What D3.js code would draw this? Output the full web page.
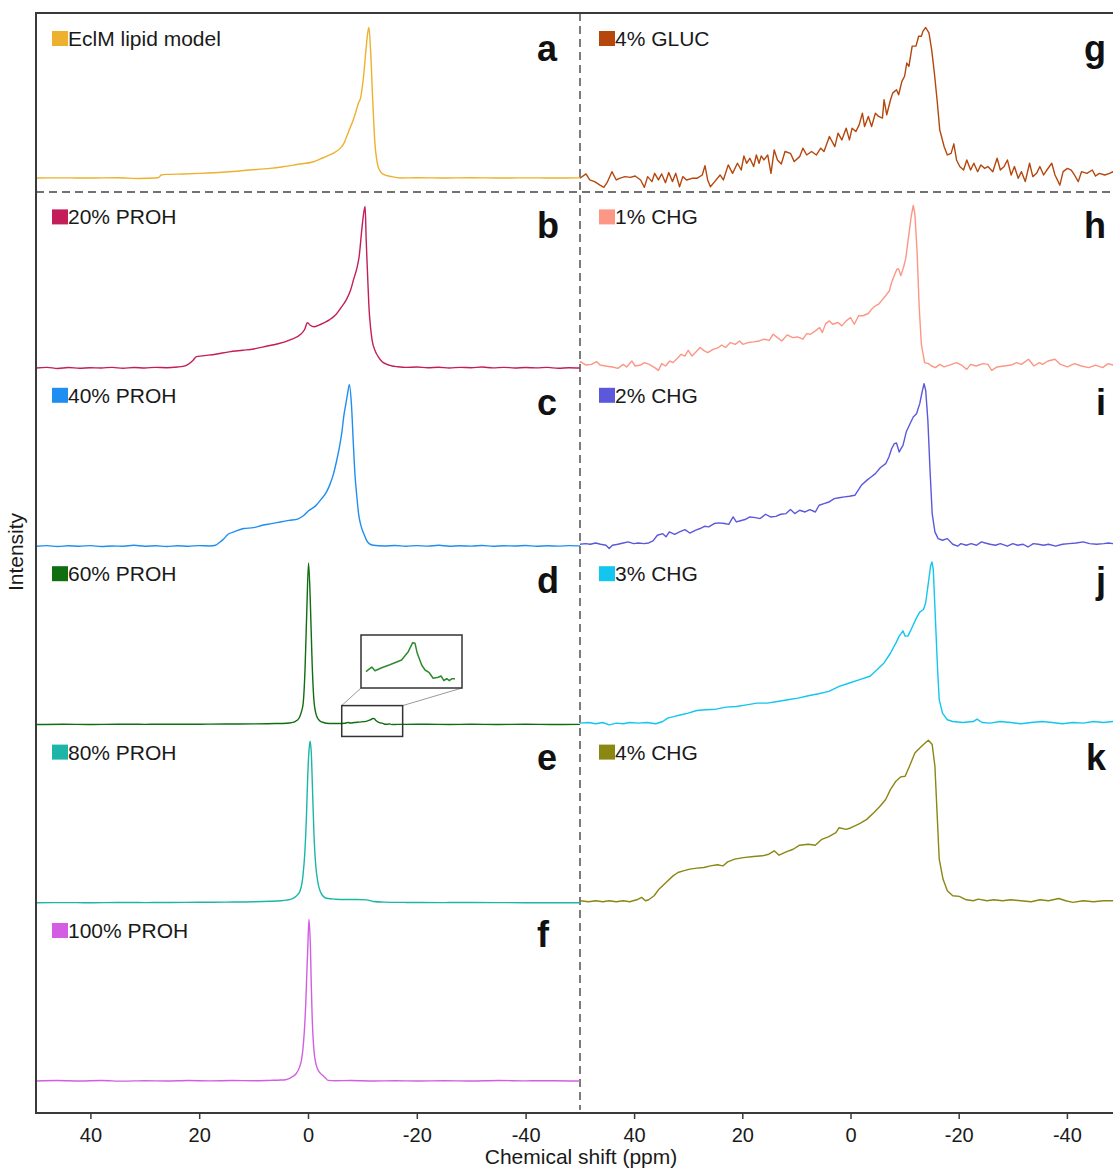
<!DOCTYPE html>
<html>
<head>
<meta charset="utf-8">
<script src="https://cdn.jsdelivr.net/npm/d3@7"></script>
<style>
  html, body { margin: 0; padding: 0; background: #fff; }
  svg { display: block; font-family: "Liberation Sans", Arial, Helvetica, sans-serif; }
</style>
</head>
<body>
<svg id="chart" width="1113" height="1168"></svg>
<script>
// ---- Spectra: [chemical shift (ppm), normalised intensity] ----
const specA = [[50,0],[45,0.001],[40,0],[35,0.002],[31,-0.003],[28,0],[27.4,0.004],[27,0.02],[26,0.024],[23,0.027],[19.9,0.031],[15,0.04],[10.7,0.053],[7,0.064],[4.6,0.075],[2,0.09],[-1,0.108],[-2.2,0.126],[-3.5,0.145],[-4.6,0.164],[-5.9,0.197],[-6.6,0.23],[-7.1,0.274],[-7.7,0.33],[-8.3,0.384],[-8.8,0.44],[-9.25,0.495],[-9.7,0.538],[-10.2,0.671],[-10.7,0.87],[-11.0,0.97],[-11.2,1.0],[-11.5,0.85],[-11.9,0.517],[-12.3,0.23],[-12.6,0.13],[-12.9,0.075],[-13.8,0.026],[-15.4,0.009],[-16.9,0],[-20,0.002],[-25,0],[-30,0.002],[-35,0],[-40,0.001],[-45,0],[-50,0.001]];

const specB = [[50,0],[48,0.004],[46,-0.003],[44,0.003],[42,-0.002],[40,0.002],[38,0],[36,0.004],[34,-0.002],[32,0.003],[30,0],[28,0.004],[26,0.002],[24,0.006],[23,0.01],[22.2,0.02],[21.2,0.045],[20.5,0.07],[19.5,0.075],[17,0.085],[14.5,0.1],[12,0.11],[10,0.118],[7.5,0.136],[5.5,0.15],[3.3,0.174],[1.3,0.21],[0.6,0.24],[0.1,0.28],[-0.4,0.265],[-1.1,0.255],[-2,0.265],[-2.9,0.28],[-4,0.3],[-5.1,0.33],[-6,0.37],[-7.0,0.42],[-7.8,0.48],[-8.4,0.55],[-9.0,0.62],[-9.4,0.69],[-9.9,0.86],[-10.2,0.95],[-10.5,1.0],[-10.7,0.79],[-10.95,0.58],[-11.2,0.38],[-11.5,0.25],[-11.8,0.17],[-12.3,0.11],[-12.9,0.07],[-13.6,0.04],[-14.3,0.025],[-15.3,0.014],[-16.5,0.008],[-18,0.004],[-20,0.006],[-22,0.002],[-24,0.005],[-26,0],[-28,0.004],[-30,0.002],[-32,0.006],[-34,0.001],[-36,0.004],[-38,0],[-40,0.003],[-42,0.001],[-44,0.004],[-46,-0.002],[-48,0.002],[-50,0]];

const specC = [[50,0],[48,0.004],[46,-0.002],[44,0.003],[42,0],[40,0.004],[38,-0.002],[36,0.002],[34,0],[32,0.006],[30,0],[28,0.003],[26,-0.002],[24,0.003],[22,0],[20,0.004],[18,0.002],[17,0.006],[16.4,0.02],[15.5,0.045],[14.7,0.074],[13.5,0.09],[11.8,0.11],[10,0.115],[8.4,0.13],[6.7,0.14],[5.1,0.15],[3.5,0.16],[1.8,0.17],[0.8,0.19],[-0.1,0.22],[-1.4,0.25],[-2.4,0.29],[-3.3,0.33],[-4.0,0.38],[-4.7,0.45],[-5.2,0.52],[-5.7,0.6],[-6.2,0.7],[-6.6,0.81],[-7.0,0.89],[-7.3,0.95],[-7.6,1.0],[-8.0,0.87],[-8.3,0.66],[-8.6,0.46],[-9.0,0.3],[-9.3,0.2],[-9.8,0.12],[-10.3,0.074],[-10.8,0.035],[-11.3,0.015],[-12,0.006],[-14,0.002],[-16,0.005],[-18,0],[-20,0.004],[-22,0.001],[-24,0.006],[-26,0],[-28,0.003],[-30,0.001],[-32,0.005],[-34,0],[-36,0.003],[-38,0.002],[-40,0.005],[-42,0],[-44,0.003],[-46,0.001],[-48,0.004],[-50,0.002]];

const specD = [[50,0],[45,0.002],[40,0],[35,0.002],[30,0.001],[25,0.002],[20,0.002],[15,0.003],[10,0.004],[6,0.006],[4,0.008],[3,0.012],[2.3,0.02],[1.85,0.03],[1.5,0.05],[1.2,0.08],[0.88,0.133],[0.55,0.337],[0.22,0.706],[-0.1,1.0],[-0.44,0.746],[-0.76,0.378],[-1.08,0.153],[-1.4,0.075],[-1.75,0.04],[-2.2,0.022],[-2.7,0.014],[-4,0.006],[-5.5,0.006],[-6.75,0.008],[-7.1,0.0105],[-7.4,0.0127],[-7.75,0.009],[-8.5,0.012],[-9.4,0.015],[-10.7,0.0197],[-11.44,0.028],[-11.93,0.037],[-12.19,0.0364],[-12.44,0.0264],[-12.93,0.0147],[-13.3,0.0097],[-13.77,0.007],[-14.2,0.0014],[-14.77,0.0024],[-15.07,0.0037],[-15.4,-0.001],[-15.7,0.001],[-15.99,-0.001],[-16.29,0.001],[-16.62,0.001],[-18,0.001],[-22,0.002],[-26,0],[-30,0.002],[-35,0],[-40,0.002],[-45,0],[-50,0.001]];

const specE = [[50,0],[45,0.001],[40,0],[35,0.002],[30,0.001],[25,0.002],[20,0.003],[15,0.004],[10,0.006],[7,0.009],[5.1,0.012],[4,0.016],[2.85,0.025],[2.2,0.04],[1.5,0.07],[0.95,0.16],[0.6,0.3],[0.3,0.52],[0.05,0.78],[-0.2,0.95],[-0.4,1.0],[-0.6,0.93],[-0.85,0.68],[-1.1,0.42],[-1.4,0.24],[-1.8,0.13],[-2.4,0.06],[-3.4,0.028],[-5,0.022],[-7,0.02],[-9,0.02],[-10.7,0.018],[-12,0.008],[-14,0.004],[-18,0.002],[-25,0.001],[-30,0.002],[-40,0],[-50,0]];

const specF = [[50,0],[46,0.003],[42,0],[38,0.003],[34,-0.001],[30,0.002],[26,0],[22,0.003],[18,0.001],[14,0.003],[10,0.002],[7,0.004],[5,0.006],[4.15,0.008],[3.2,0.02],[2.2,0.045],[1.55,0.086],[1.2,0.13],[0.9,0.209],[0.65,0.32],[0.42,0.474],[0.2,0.68],[0.02,0.843],[-0.18,1.0],[-0.45,0.822],[-0.6,0.6],[-0.75,0.413],[-0.9,0.29],[-1.1,0.188],[-1.4,0.115],[-1.75,0.076],[-2.2,0.05],[-2.7,0.035],[-3.2,0.018],[-3.7,0.004],[-5,0.002],[-8,0.003],[-12,0],[-16,0.002],[-20,0],[-25,0.002],[-30,0],[-35,0.003],[-40,0.001],[-45,0.002],[-50,0]];

const specG = [[50.0,-0.002],[48.9,0.027],[48.2,-0.013],[47.3,-0.024],[46.3,-0.047],[45.6,-0.062],[45.0,-0.031],[44.1,0.042],[43.3,-0.013],[42.7,-0.002],[41.7,0.009],[40.7,0.004],[39.8,0.013],[38.8,-0.013],[38.1,-0.062],[37.5,0.009],[36.7,-0.024],[36.2,0.031],[35.5,-0.013],[34.9,0.027],[34.2,-0.031],[33.6,0.036],[32.9,-0.024],[32.3,0.031],[31.6,-0.058],[31.0,0.009],[30.3,-0.013],[29.3,-0.002],[28.4,-0.002],[27.4,0.02],[26.9,0.082],[26.4,-0.013],[25.9,-0.058],[25.1,-0.024],[24.1,0.02],[23.5,-0.013],[22.6,0.087],[21.8,0.031],[20.9,0.098],[20.2,0.053],[19.7,0.147],[19.2,0.098],[18.6,0.131],[17.9,0.076],[17.4,0.153],[16.9,0.098],[16.5,0.147],[16.0,0.12],[15.3,0.153],[14.7,0.031],[14.1,0.187],[13.5,0.12],[12.8,0.093],[12.1,0.176],[11.1,0.164],[10.4,0.109],[9.4,0.142],[8.8,0.198],[8.1,0.153],[7.2,0.176],[6.3,0.153],[5.5,0.198],[4.9,0.176],[3.9,0.276],[2.9,0.209],[2.3,0.298],[1.6,0.253],[0.8,0.331],[0.2,0.253],[-0.3,0.331],[-1.0,0.309],[-1.6,0.353],[-2.2,0.431],[-2.6,0.342],[-3.3,0.409],[-3.9,0.342],[-4.6,0.431],[-5.2,0.409],[-5.9,0.398],[-6.2,0.52],[-6.7,0.42],[-7.4,0.52],[-7.8,0.564],[-8.5,0.587],[-8.9,0.553],[-9.5,0.642],[-10.0,0.676],[-10.4,0.764],[-10.8,0.742],[-11.4,0.876],[-12.1,0.876],[-12.6,0.942],[-13.1,0.942],[-13.4,0.976],[-13.9,1.0],[-14.5,0.964],[-15.0,0.853],[-15.5,0.698],[-16.0,0.52],[-16.5,0.32],[-17.3,0.209],[-17.9,0.153],[-18.6,0.164],[-19.1,0.227],[-19.6,0.12],[-20.2,0.076],[-20.9,0.053],[-21.5,0.12],[-22.2,0.053],[-22.8,0.098],[-23.5,0.042],[-24.1,0.087],[-24.8,0.064],[-25.4,0.076],[-26.3,0.042],[-27.1,0.131],[-27.7,0.053],[-28.4,0.076],[-29.0,0.12],[-29.7,0.02],[-30.3,0.076],[-31.0,-0.002],[-31.6,0.042],[-32.3,-0.024],[-33.1,0.098],[-33.7,0.009],[-34.4,0.031],[-35.0,0.076],[-35.7,0.02],[-36.3,0.053],[-37.2,0.098],[-37.8,0.02],[-38.7,-0.047],[-39.3,0.042],[-40.1,0.064],[-40.8,0.053],[-41.4,0.02],[-42.1,-0.024],[-42.7,0.042],[-43.7,0.031],[-44.7,0.053],[-45.3,0.013],[-46.0,0.031],[-47.0,0.02],[-47.9,0.031],[-48.5,0.042],[-49.3,0.02],[-50,0.03]];

const specH = [[50,0.02],[49.9,0.027],[48.9,0.006],[47.9,0.010],[46.9,0.027],[46.3,0.006],[45.3,0],[44.0,-0.006],[43.0,-0.015],[42.0,0.010],[41.4,-0.006],[40.4,0.031],[39.8,0],[38.8,0.006],[38.1,0.021],[37.2,0.010],[36.2,-0.010],[35.5,-0.027],[34.9,0.015],[34.2,0],[33.4,0.031],[32.8,0.021],[31.9,0.052],[31.3,0.073],[30.6,0.062],[30.0,0.098],[29.3,0.062],[28.7,0.083],[27.8,0.115],[27.0,0.094],[26.4,0.083],[25.4,0.104],[24.4,0.115],[23.8,0.131],[23.1,0.115],[22.2,0.146],[21.3,0.135],[20.5,0.156],[19.9,0.135],[18.9,0.146],[17.9,0.150],[16.9,0.156],[16.0,0.167],[15.0,0.160],[14.3,0.198],[13.5,0.177],[12.7,0.156],[11.7,0.194],[10.7,0.177],[9.8,0.181],[8.8,0.167],[8.1,0.202],[7.4,0.198],[6.5,0.219],[5.7,0.240],[5.2,0.208],[4.6,0.264],[3.9,0.281],[3.3,0.260],[2.3,0.271],[1.6,0.250],[0.8,0.281],[0.0,0.302],[-0.7,0.260],[-1.5,0.313],[-2.3,0.313],[-3.3,0.327],[-3.9,0.354],[-4.6,0.375],[-5.2,0.385],[-5.7,0.406],[-6.5,0.438],[-7.2,0.469],[-7.6,0.521],[-8.2,0.573],[-8.6,0.604],[-8.9,0.604],[-9.3,0.563],[-9.8,0.615],[-10.2,0.667],[-10.8,0.823],[-11.2,0.927],[-11.6,1.0],[-11.9,0.948],[-12.3,0.719],[-12.7,0.365],[-13.1,0.135],[-13.7,0.021],[-14.4,0.015],[-15.0,0],[-15.7,-0.010],[-16.5,0.010],[-17.3,-0.006],[-18.3,0.006],[-19.6,0.021],[-20.5,0.006],[-21.5,-0.021],[-22.2,0.010],[-23.2,0],[-24.5,0.015],[-25.4,0.010],[-26.1,-0.027],[-27.1,-0.006],[-28.4,0],[-29.7,0.006],[-30.7,0.021],[-31.6,0.010],[-32.9,0.042],[-33.9,0],[-34.9,0.021],[-35.5,0.010],[-36.5,0.031],[-37.8,0.042],[-38.8,0.010],[-40.1,-0.006],[-41.4,0.015],[-42.7,0],[-44.0,-0.010],[-45.3,0.006],[-46.6,-0.010],[-47.6,0.015],[-48.5,0.006],[-50,0.01]];

const specI = [[50.0,0],[49.0,0.004],[48.1,0],[47.1,0.008],[46.2,0],[45.2,-0.006],[44.6,-0.027],[44.0,-0.006],[43.0,0],[42.0,0.008],[41.1,0.015],[40.1,0.004],[39.2,0.008],[38.2,0.004],[37.3,0.008],[36.5,0.021],[35.7,0.056],[34.7,0.066],[34.1,0.046],[33.5,0.077],[32.5,0.062],[31.6,0.077],[30.6,0.091],[29.7,0.070],[28.7,0.087],[27.8,0.098],[27.0,0.112],[26.2,0.108],[25.2,0.129],[24.3,0.133],[23.3,0.129],[22.5,0.124],[21.7,0.170],[21.1,0.139],[20.5,0.145],[19.5,0.154],[18.6,0.170],[17.6,0.166],[16.7,0.160],[15.7,0.187],[14.8,0.170],[13.8,0.174],[12.9,0.187],[11.9,0.191],[11.1,0.216],[10.3,0.191],[9.4,0.212],[8.4,0.201],[7.5,0.216],[6.5,0.201],[5.8,0.243],[4.9,0.253],[4.0,0.263],[3.0,0.284],[2.1,0.290],[1.1,0.295],[0.2,0.299],[-0.8,0.305],[-1.4,0.336],[-2.0,0.367],[-3.0,0.398],[-3.8,0.419],[-4.6,0.440],[-5.5,0.477],[-6.5,0.502],[-7.1,0.544],[-7.6,0.595],[-8.1,0.627],[-8.5,0.631],[-9.0,0.575],[-9.7,0.616],[-10.3,0.699],[-11.0,0.751],[-11.6,0.793],[-12.2,0.813],[-12.8,0.876],[-13.3,0.959],[-13.6,1.0],[-13.9,0.959],[-14.3,0.772],[-14.7,0.461],[-15.1,0.191],[-15.6,0.077],[-16.2,0.035],[-17.0,0.025],[-17.9,0.035],[-18.9,0],[-19.8,-0.012],[-20.4,0.004],[-21.4,-0.006],[-22.3,0.004],[-23.3,-0.006],[-24.2,0.015],[-24.9,0.008],[-25.8,0],[-26.8,-0.006],[-27.7,0.004],[-29.0,-0.012],[-30.0,0.004],[-30.9,-0.006],[-31.9,0],[-32.8,-0.017],[-33.8,0.004],[-34.7,0],[-35.7,-0.006],[-36.6,0],[-37.9,-0.012],[-39.2,0],[-40.4,0.004],[-41.7,0.008],[-43.0,0.015],[-44.2,0.004],[-45.5,0],[-46.8,0.004],[-47.7,0.008],[-48.5,0.004],[-50,0.004]];

const specJ = [[50.0,-0.004],[48.4,0],[47.1,-0.008],[45.8,0],[44.6,-0.015],[43.3,-0.004],[42.0,-0.008],[40.8,0],[39.2,-0.004],[37.6,0],[36.0,-0.008],[34.7,0.006],[33.8,0.027],[32.5,0.038],[31.3,0.048],[30.0,0.058],[28.4,0.075],[26.8,0.079],[24.9,0.083],[23.0,0.096],[21.1,0.1],[19.2,0.110],[17.3,0.121],[15.4,0.121],[13.5,0.131],[11.6,0.142],[9.7,0.152],[7.8,0.167],[5.9,0.179],[4.0,0.194],[2.1,0.225],[0.2,0.246],[-1.7,0.267],[-3.6,0.288],[-4.9,0.329],[-6.2,0.371],[-7.4,0.433],[-8.4,0.496],[-9.0,0.538],[-9.7,0.571],[-10.1,0.538],[-10.6,0.538],[-11.2,0.579],[-12.2,0.652],[-12.8,0.688],[-13.5,0.704],[-13.9,0.746],[-14.4,0.871],[-14.8,0.975],[-15.05,1.0],[-15.3,0.954],[-15.7,0.642],[-16.1,0.329],[-16.4,0.142],[-17.0,0.058],[-17.9,0.017],[-18.9,0.006],[-20.8,0],[-22.7,0.006],[-23.4,0.021],[-24.3,0],[-25.8,-0.004],[-27.7,0.006],[-29.6,0],[-31.5,-0.008],[-33.4,0],[-35.4,0.006],[-37.3,0],[-39.2,-0.008],[-41.1,0],[-43.0,-0.004],[-44.9,0.006],[-46.8,0],[-48.5,0.006],[-50,0.002]];

const specK = [[50.0,0],[48.4,-0.006],[47.1,0],[45.8,-0.006],[44.6,0],[43.3,-0.006],[42.0,0],[40.8,-0.006],[39.5,0.006],[38.6,0.021],[37.9,0],[37.3,0.006],[36.3,0.031],[35.4,0.072],[34.1,0.114],[32.8,0.155],[31.9,0.176],[30.9,0.186],[29.7,0.197],[28.4,0.203],[27.1,0.207],[25.9,0.217],[24.6,0.224],[23.6,0.217],[22.7,0.242],[21.4,0.259],[19.8,0.269],[17.9,0.276],[16.3,0.280],[15.1,0.290],[14.1,0.311],[13.2,0.284],[11.9,0.305],[10.6,0.321],[9.4,0.346],[7.8,0.352],[6.5,0.346],[5.3,0.383],[4.0,0.400],[2.7,0.424],[2.1,0.455],[0.8,0.445],[-0.1,0.455],[-1.4,0.476],[-2.0,0.487],[-3.0,0.507],[-4.3,0.549],[-5.5,0.590],[-6.5,0.631],[-7.4,0.694],[-8.4,0.745],[-9.3,0.772],[-10.1,0.776],[-10.9,0.838],[-11.9,0.921],[-12.8,0.952],[-13.8,0.983],[-14.4,1.0],[-15.1,0.973],[-15.6,0.839],[-16.0,0.549],[-16.4,0.259],[-17.1,0.135],[-17.9,0.062],[-18.9,0.031],[-20.1,0.027],[-21.4,0.006],[-22.7,0],[-23.6,0.010],[-25.2,0],[-26.5,0.006],[-28.1,0],[-29.6,0.006],[-31.5,0],[-33.4,-0.006],[-35.0,0.006],[-36.6,0],[-38.5,0.014],[-39.8,0],[-41.1,-0.010],[-43.0,0],[-44.9,-0.006],[-46.8,0],[-48.5,0],[-50,0]];

// ---- Panel descriptors ----
const panelLetters = ["a", "b", "c", "d", "e", "f", "g", "h", "i", "j", "k"];
const sampleNames  = ["EclM lipid model", "20% PROH", "40% PROH", "60% PROH", "80% PROH", "100% PROH",
                      "4% GLUC", "1% CHG", "2% CHG", "3% CHG", "4% CHG"];
const sampleColors = ["#EDB12F", "#C41E5A", "#1E8EF2", "#0E6E10", "#1DB5A8", "#D35EE3",
                      "#B5470D", "#FC9685", "#5B58DC", "#12C6F0", "#8A8712"];
const spectra = [specA, specB, specC, specD, specE, specF, specG, specH, specI, specJ, specK];
const tickValues = [40, 20, 0, -20, -40];
const ppmDomain = [50, -50];

// Window on the 60% PROH trace that is shown magnified
const zoomPpm = [-6.2, -17.4];
const zoomIntensity = [-0.074, 0.117];

// ---- Layout ----
const svg = d3.select("#chart");
const frame = { left: 36, top: 13, bottom: 1113, right: 1113, split: 580, divider: 192 };
const columns = [{ x0: 36, x1: 580 }, { x0: 580, x1: 1121 }];
const xScales = columns.map(c => d3.scaleLinear().domain(ppmDomain).range([c.x0, c.x1]));

function panelGeometry(i) {
  const col = i < 6 ? 0 : 1;
  const row = col === 0 ? i : i - 6;
  let base, height;
  if (row === 0) { base = 178; height = 150.5; }
  else { base = 368 + (row - 1) * 178.25 - (col === 1 ? 2 : 0); height = col === 1 ? 160.5 : 161.5; }
  return { col, row, base, height };
}

const panels = spectra.map((data, i) => {
  const g = panelGeometry(i);
  return {
    letter: panelLetters[i], name: sampleNames[i], color: sampleColors[i], data,
    col: g.col, row: g.row, noisy: i >= 6,
    x: xScales[g.col],
    y: d3.scaleLinear().domain([0, 1]).range([g.base, g.base - g.height])
  };
});

// ---- Divider lines ----
const dash = "8,5";
svg.append("line")
  .attr("x1", frame.split).attr("x2", frame.split)
  .attr("y1", frame.top).attr("y2", frame.bottom - 3)
  .attr("stroke", "#444").attr("stroke-width", 1.4).attr("stroke-dasharray", dash);
svg.append("line")
  .attr("x1", frame.left).attr("x2", frame.right)
  .attr("y1", frame.divider).attr("y2", frame.divider)
  .attr("stroke", "#444").attr("stroke-width", 1.4).attr("stroke-dasharray", dash);

// ---- Spectra ----
const traces = svg.append("g");
panels.forEach(p => {
  const line = d3.line()
    .x(d => p.x(d[0]))
    .y(d => p.y(d[1]))
    .curve(p.noisy ? d3.curveLinear : d3.curveMonotoneX);
  traces.append("path")
    .datum(p.data)
    .attr("d", line)
    .attr("fill", "none")
    .attr("stroke", p.color)
    .attr("stroke-width", 1.4)
    .attr("stroke-linejoin", "round");
});

// ---- Legends and panel letters ----
const legendX = [52, 599];
panels.forEach(p => {
  const top = 31 + p.row * 178.4;
  svg.append("rect")
    .attr("x", legendX[p.col]).attr("y", top)
    .attr("width", 16).attr("height", 15)
    .attr("fill", p.color);
  svg.append("text")
    .attr("x", legendX[p.col] + 16).attr("y", top + 15)
    .attr("font-size", 21).attr("fill", "#1a1a1a")
    .text(p.name);
  svg.append("text")
    .attr("x", p.col === 0 ? 537 : 1106)
    .attr("y", 61 + p.row * 177.2)
    .attr("text-anchor", p.col === 0 ? "start" : "end")
    .attr("font-size", 36).attr("font-weight", "bold").attr("fill", "#111")
    .text(p.letter);
});

// ---- Magnified inset on the 60% PROH trace ----
const pd = panels[3];
const box = {
  x0: pd.x(zoomPpm[0]), x1: pd.x(zoomPpm[1]),
  y0: pd.y(zoomIntensity[1]), y1: pd.y(zoomIntensity[0])
};
const inset = { x0: 361, x1: 462, y0: 635, y1: 688 };
const insetX = d3.scaleLinear().domain(zoomPpm).range([inset.x0, inset.x1]);
const insetY = d3.scaleLinear().domain([-0.0083, 0.0447]).range([inset.y1, inset.y0]);

svg.append("line").attr("x1", box.x0).attr("y1", box.y0).attr("x2", inset.x0).attr("y2", inset.y1)
  .attr("stroke", "#9a9a9a").attr("stroke-width", 1);
svg.append("line").attr("x1", box.x1).attr("y1", box.y0).attr("x2", inset.x1).attr("y2", inset.y1)
  .attr("stroke", "#9a9a9a").attr("stroke-width", 1);
svg.append("rect")
  .attr("x", box.x0).attr("y", box.y0)
  .attr("width", box.x1 - box.x0).attr("height", box.y1 - box.y0)
  .attr("fill", "none").attr("stroke", "#333").attr("stroke-width", 1.5);
svg.append("rect")
  .attr("x", inset.x0).attr("y", inset.y0)
  .attr("width", inset.x1 - inset.x0).attr("height", inset.y1 - inset.y0)
  .attr("fill", "#fff").attr("stroke", "#333").attr("stroke-width", 1.5);
svg.append("path")
  .datum(pd.data.filter(d => d[0] <= -6.7 && d[0] >= -16.7))
  .attr("d", d3.line().x(d => insetX(d[0])).y(d => insetY(d[1])))
  .attr("fill", "none").attr("stroke", "#2E8B2E").attr("stroke-width", 1.5)
  .attr("stroke-linejoin", "round");

// ---- Frame and axes ----
const frameStroke = "#3a3a3a";
svg.append("line").attr("x1", frame.left).attr("x2", frame.right)
  .attr("y1", frame.top).attr("y2", frame.top)
  .attr("stroke", frameStroke).attr("stroke-width", 2);
svg.append("line").attr("x1", frame.left).attr("x2", frame.left)
  .attr("y1", frame.top - 1).attr("y2", frame.bottom + 1)
  .attr("stroke", frameStroke).attr("stroke-width", 2);

xScales.forEach(x => {
  const ax = svg.append("g")
    .attr("transform", `translate(0,${frame.bottom})`)
    .call(d3.axisBottom(x).tickValues(tickValues).tickSize(6).tickPadding(9)
      .tickFormat(d => String(d)));
  ax.select(".domain").remove();
  ax.selectAll(".tick line").attr("stroke", frameStroke).attr("stroke-width", 1.5);
  ax.selectAll(".tick text")
    .attr("font-size", 20).attr("fill", "#1a1a1a")
    .attr("font-family", "\"Liberation Sans\", Arial, sans-serif");
});
svg.append("line").attr("x1", frame.left - 1).attr("x2", frame.right)
  .attr("y1", frame.bottom).attr("y2", frame.bottom)
  .attr("stroke", frameStroke).attr("stroke-width", 2);

svg.append("text")
  .attr("x", 581).attr("y", 1164)
  .attr("text-anchor", "middle").attr("font-size", 21).attr("fill", "#1a1a1a")
  .text("Chemical shift (ppm)");
svg.append("text")
  .attr("transform", "translate(23,552) rotate(-90)")
  .attr("text-anchor", "middle").attr("font-size", 21).attr("fill", "#1a1a1a")
  .text("Intensity");
</script>
</body>
</html>
